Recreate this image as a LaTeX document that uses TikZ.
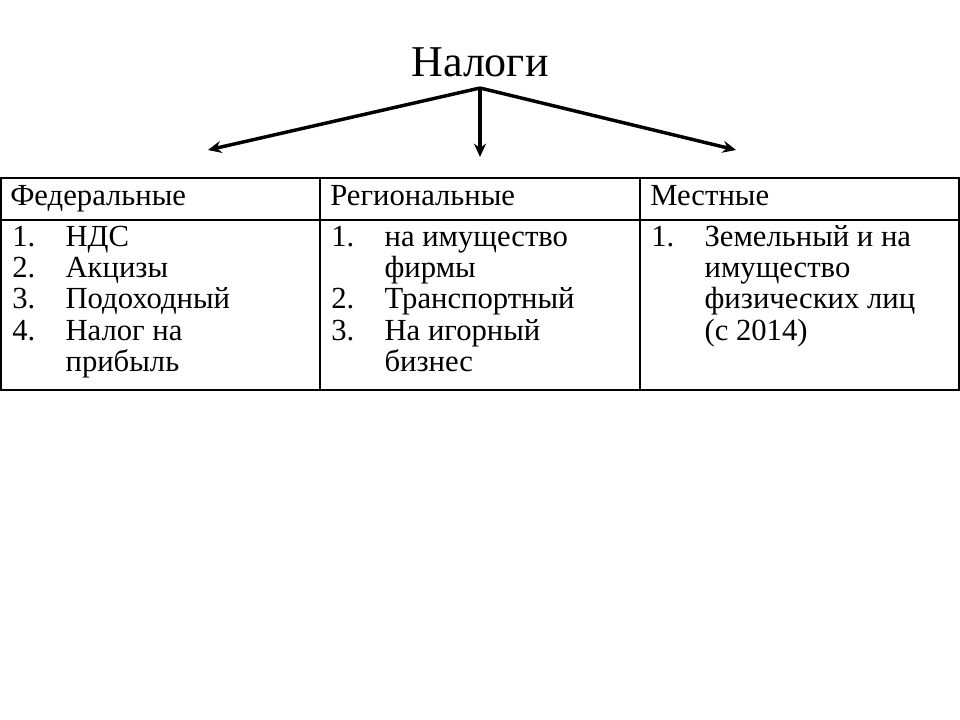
\documentclass[tikz,border=0pt]{standalone}
\usepackage{fontspec}
\setmainfont{Liberation Serif}
\usetikzlibrary{arrows.meta}
\begin{document}
\begin{tikzpicture}[x=0.75pt,y=-0.75pt,
  arr/.style={line width=2.6pt,-{Stealth[length=10pt,width=9pt]}},
  cell/.style={anchor=base west,inner sep=0pt,font=\fontsize{23}{23.5}\selectfont},
  item/.style={anchor=north west,inner sep=0pt,font=\fontsize{23}{23.5}\selectfont}]
\useasboundingbox (0,0) rectangle (960,720);
\fill[white] (0,0) rectangle (960,720);
\node[font=\fontsize{33}{36}\selectfont] (t) at (480,62) {Налоги};
\coordinate (o) at (480,88);
\coordinate (l) at (208,150);
\coordinate (c) at (480,157);
\coordinate (r) at (736,150);
\draw[arr] (o) -- (l);
\draw[arr] (o) -- (c);
\draw[arr] (o) -- (r);
\draw[line width=0.8pt] (1,178) rectangle (959,390);
\draw[line width=0.8pt] (1,220) -- (959,220);
\draw[line width=0.8pt] (320,178) -- (320,390) (640,178) -- (640,390);
\node[cell] (h1) at (10,206) {Федеральные};
\node[cell] (h2) at (330,206) {Региональные};
\node[cell] (h3) at (650,206) {Местные};
\node[item] (a1) at (12,224) {\begin{tabular}{@{}p{40pt}@{}l@{}}1.&НДС\\2.&Акцизы\\3.&Подоходный\\4.&Налог на\\&прибыль\end{tabular}};
\node[item] (a2) at (331,224) {\begin{tabular}{@{}p{40pt}@{}l@{}}1.&на имущество\\&фирмы\\2.&Транспортный\\3.&На игорный\\&бизнес\end{tabular}};
\node[item] (a3) at (651,224) {\begin{tabular}{@{}p{40pt}@{}l@{}}1.&Земельный и на\\&имущество\\&физических лиц\\&(с 2014)\end{tabular}};
\end{tikzpicture}
\end{document}
